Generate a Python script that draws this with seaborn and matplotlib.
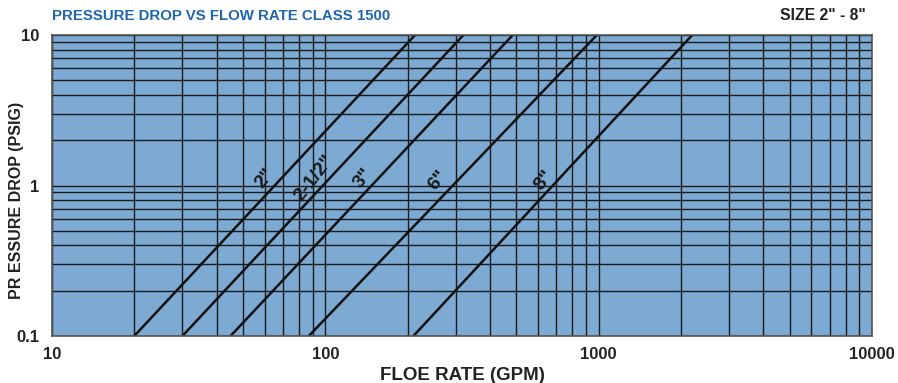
import numpy as np
import pandas as pd
import matplotlib
matplotlib.use("Agg")
import matplotlib.pyplot as plt
import seaborn as sns
from matplotlib.ticker import FixedLocator, FixedFormatter, LogLocator, NullFormatter

# ---- data ----
sizes = ['2"', '2-1/2"', '3"', '6"', '8"']
flow_at_low = [20, 30, 45, 87, 210]        # GPM at 0.1 PSIG
flow_at_high = [213, 320, 485, 985, 2200]  # GPM at 10 PSIG
pressure_ends = [0.1, 10]
label_flow = [60, 91, 137, 258, 630]
label_press = [1.12, 1.12, 1.12, 1.09, 1.09]
x_ticks = [10, 100, 1000, 10000]
x_tick_labels = ["10", "100", "1000", "10000"]
y_ticks = [0.1, 1, 10]
y_tick_labels = ["0.1", "1", "10"]

rows = []
for s, lo, hi in zip(sizes, flow_at_low, flow_at_high):
    rows.append({"size": s, "flow": lo, "pressure": pressure_ends[0]})
    rows.append({"size": s, "flow": hi, "pressure": pressure_ends[1]})
df = pd.DataFrame(rows)

sns.set_style("white")
plt.rcParams['font.family'] = ['Liberation Sans', 'DejaVu Sans']

W, H = 898, 383
fig = plt.figure(figsize=(W / 100, H / 100), dpi=100)
ax = fig.add_axes([52 / W, 1 - 336 / H, (872 - 52) / W, (336 - 35) / H])
ax.set_facecolor("#7DAAD3")

sns.lineplot(data=df, x="flow", y="pressure", units="size", estimator=None,
             color="#111111", linewidth=1.8, ax=ax, legend=False)

ax.set_xscale("log")
ax.set_yscale("log")
ax.set_xlim(10, 10000)
ax.set_ylim(0.1, 10)

ax.xaxis.set_major_locator(FixedLocator(x_ticks))
ax.xaxis.set_major_formatter(FixedFormatter(x_tick_labels))
ax.yaxis.set_major_locator(FixedLocator(y_ticks))
ax.yaxis.set_major_formatter(FixedFormatter(y_tick_labels))
ax.xaxis.set_minor_locator(LogLocator(base=10, subs=np.arange(2, 10)))
ax.yaxis.set_minor_locator(LogLocator(base=10, subs=np.arange(2, 10)))
ax.xaxis.set_minor_formatter(NullFormatter())
ax.yaxis.set_minor_formatter(NullFormatter())

ax.grid(True, which="both", color="#1a1a1a", linewidth=1.0)
ax.tick_params(which="both", length=0)
ax.tick_params(axis="x", labelsize=12, pad=8)
ax.tick_params(axis="y", labelsize=12, pad=9)
for lab in ax.get_xticklabels() + ax.get_yticklabels():
    lab.set_fontweight("bold")
    lab.set_color("#222222")

for sp in ax.spines.values():
    sp.set_color("#555555")
    sp.set_linewidth(1.2)

for s, fx, fy in zip(sizes, label_flow, label_press):
    ax.text(fx, fy, s, rotation=52, ha="center", va="center", fontsize=14,
            fontweight="bold", color="#1a1a1a")

ax.set_xlabel("FLOE RATE (GPM)", fontsize=13.5, fontweight="bold", color="#222222")
ax.set_ylabel("PR ESSURE DROP (PSIG)", fontsize=11.5, fontweight="bold", color="#222222")
ax.xaxis.set_label_coords(462 / W, 1 - 375 / H, transform=fig.transFigure)
ax.yaxis.set_label_coords(17 / W, 1 - 200 / H, transform=fig.transFigure)
ax.xaxis.label.set_va("center")
ax.yaxis.label.set_va("center")

fig.text(52 / W, 1 - 16 / H, "PRESSURE DROP VS FLOW RATE CLASS 1500", fontsize=10.8,
         fontweight="bold", color="#1F66AE", ha="left", va="center")
fig.text(866 / W, 1 - 16 / H, 'SIZE 2" - 8"', fontsize=11.3, fontweight="bold",
         color="#222222", ha="right", va="center")

fig.savefig("out.png", dpi=100)
